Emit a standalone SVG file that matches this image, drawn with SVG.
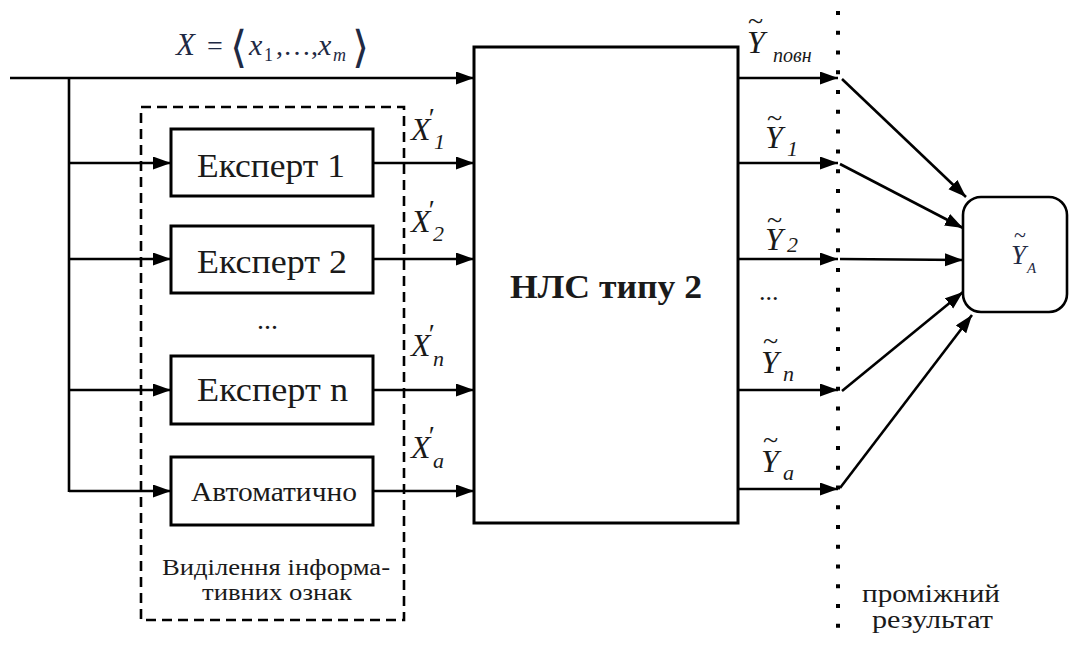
<svg xmlns="http://www.w3.org/2000/svg" width="1071" height="646" viewBox="0 0 1071 646">
<defs>
<marker id="arr" markerUnits="userSpaceOnUse" markerWidth="20" markerHeight="14" refX="18" refY="6.5" orient="auto">
<path d="M0,0 L18,6.5 L0,13 z" fill="#000"/>
</marker>
<style>
.ln{stroke:#000;stroke-width:2.6;fill:none}
.box{stroke:#000;stroke-width:3;fill:#fff}
.t{font-family:"Liberation Serif","Times New Roman",serif;fill:#1a1a1a}
.mi{font-family:"Liberation Serif","Times New Roman",serif;font-style:italic;fill:#1a1a1a}
.up{font-style:normal}
.eq{font-family:"Liberation Serif","DejaVu Serif",serif;fill:#1f2a44}
</style>
</defs>
<rect width="1071" height="646" fill="#fff"/>

<g id="connectors">
<line class="ln" x1="10" y1="78" x2="474" y2="78" marker-end="url(#arr)"/>
<line class="ln" x1="69" y1="78" x2="69" y2="492"/>
<line class="ln" x1="69" y1="163" x2="171" y2="163" marker-end="url(#arr)"/>
<line class="ln" x1="69" y1="259" x2="171" y2="259" marker-end="url(#arr)"/>
<line class="ln" x1="69" y1="390" x2="171" y2="390" marker-end="url(#arr)"/>
<line class="ln" x1="69" y1="491" x2="171" y2="491" marker-end="url(#arr)"/>
<line class="ln" x1="373" y1="163" x2="474" y2="163" marker-end="url(#arr)"/>
<line class="ln" x1="373" y1="259" x2="474" y2="259" marker-end="url(#arr)"/>
<line class="ln" x1="373" y1="390" x2="474" y2="390" marker-end="url(#arr)"/>
<line class="ln" x1="373" y1="491" x2="474" y2="491" marker-end="url(#arr)"/>
<line class="ln" x1="738" y1="78" x2="838" y2="78" marker-end="url(#arr)"/>
<line class="ln" x1="738" y1="163" x2="838" y2="163" marker-end="url(#arr)"/>
<line class="ln" x1="738" y1="259" x2="838" y2="259" marker-end="url(#arr)"/>
<line class="ln" x1="738" y1="390" x2="838" y2="390" marker-end="url(#arr)"/>
<line class="ln" x1="738" y1="489" x2="838" y2="489" marker-end="url(#arr)"/>
<line class="ln" x1="842" y1="79" x2="966" y2="197" marker-end="url(#arr)"/>
<line class="ln" x1="840" y1="164" x2="963" y2="228" marker-end="url(#arr)"/>
<line class="ln" x1="840" y1="259" x2="963" y2="260" marker-end="url(#arr)"/>
<line class="ln" x1="842" y1="391" x2="963" y2="292" marker-end="url(#arr)"/>
<line class="ln" x1="840" y1="488" x2="972" y2="315" marker-end="url(#arr)"/>
</g>

<g id="divider">
<line x1="838" y1="11" x2="838" y2="640" stroke="#000" stroke-width="4" stroke-dasharray="4 15.77"/>
<text class="t" x="862" y="602" font-size="26" textLength="138" lengthAdjust="spacingAndGlyphs">проміжний</text>
<text class="t" x="872" y="628" font-size="26" textLength="121" lengthAdjust="spacingAndGlyphs">результат</text>
</g>

<g id="input-label">
<text class="eq" x="176" y="55" font-size="31"><tspan font-style="italic">X</tspan><tspan x="207" font-size="28">=</tspan><tspan x="230" dy="7" font-size="44">⟨</tspan><tspan x="249" dy="-7" font-size="30" font-style="italic">x</tspan><tspan x="264" dy="6" font-size="18">1</tspan><tspan x="276" dy="-6" font-size="28">,…,</tspan><tspan x="318" font-size="30" font-style="italic">x</tspan><tspan x="333" dy="6" font-size="18" font-style="italic">m</tspan><tspan x="352" dy="1" font-size="44">⟩</tspan></text>
</g>

<g id="feature-extraction">
<rect x="141" y="107" width="263" height="513" fill="none" stroke="#000" stroke-width="2.6" stroke-dasharray="10 6"/>
<text class="t" x="162" y="575" font-size="24" textLength="228" lengthAdjust="spacingAndGlyphs">Виділення інформа-</text>
<text class="t" x="202" y="600" font-size="24" textLength="150" lengthAdjust="spacingAndGlyphs">тивних ознак</text>
<text class="t" x="257" y="329" font-size="28">...</text>
</g>

<g id="expert1">
<rect class="box" x="171" y="129" width="202" height="67"/>
<text class="t" x="197" y="177" font-size="33" textLength="148" lengthAdjust="spacingAndGlyphs">Експерт 1</text>
</g>
<g id="expert2">
<rect class="box" x="171" y="226" width="202" height="67"/>
<text class="t" x="197" y="273" font-size="33" textLength="150" lengthAdjust="spacingAndGlyphs">Експерт 2</text>
</g>
<g id="expertn">
<rect class="box" x="171" y="356" width="202" height="68"/>
<text class="t" x="197" y="401" font-size="33" textLength="151" lengthAdjust="spacingAndGlyphs">Експерт n</text>
</g>
<g id="auto">
<rect class="box" x="171" y="457" width="202" height="68"/>
<text class="t" x="191" y="501" font-size="27" textLength="166" lengthAdjust="spacingAndGlyphs">Автоматично</text>
</g>

<g id="x-labels">
<text class="mi" x="411" y="140" font-size="32">X<tspan x="427" dy="-13" font-size="28">′</tspan><tspan x="434" dy="22" font-size="22">1</tspan></text>
<text class="mi" x="411" y="232" font-size="32">X<tspan x="427" dy="-13" font-size="28">′</tspan><tspan x="433" dy="22" font-size="22">2</tspan></text>
<text class="mi" x="411" y="356" font-size="32">X<tspan x="427" dy="-13" font-size="28">′</tspan><tspan x="433" dy="23" font-size="22">n</tspan></text>
<text class="mi" x="411" y="458" font-size="32">X<tspan x="427" dy="-13" font-size="28">′</tspan><tspan x="433" dy="23" font-size="22">a</tspan></text>
</g>

<g id="nls">
<rect class="box" x="474" y="47" width="264" height="476"/>
<text class="t" x="606" y="298" font-size="33" font-weight="bold" text-anchor="middle" textLength="192" lengthAdjust="spacingAndGlyphs">НЛС типу 2</text>
</g>

<g id="y-labels">
<text class="mi" x="748" y="30" font-size="28"><tspan class="up">~</tspan><tspan x="747" y="53" font-size="32">Y</tspan><tspan x="773" y="62" font-size="20">повн</tspan></text>
<text class="mi" x="767" y="127" font-size="28"><tspan class="up">~</tspan><tspan x="765" y="148" font-size="32">Y</tspan><tspan x="787" y="156" font-size="22">1</tspan></text>
<text class="mi" x="767" y="229" font-size="28"><tspan class="up">~</tspan><tspan x="765" y="250" font-size="32">Y</tspan><tspan x="787" y="252" font-size="22">2</tspan></text>
<text class="t" x="759" y="300" font-size="26">...</text>
<text class="mi" x="763" y="350" font-size="28"><tspan class="up">~</tspan><tspan x="761" y="373" font-size="32">Y</tspan><tspan x="783" y="381" font-size="22">n</tspan></text>
<text class="mi" x="763" y="449" font-size="28"><tspan class="up">~</tspan><tspan x="761" y="472" font-size="32">Y</tspan><tspan x="783" y="480" font-size="22">a</tspan></text>
</g>

<g id="result">
<rect x="963" y="197" width="104" height="115" rx="18" ry="18" fill="#fff" stroke="#000" stroke-width="2.6"/>
<text class="eq" x="1014" y="242" font-size="22" fill="#3b3322">~<tspan x="1011" y="264" font-size="27" font-style="italic">Y</tspan><tspan x="1027" y="273" font-size="15" font-style="italic">A</tspan></text>
</g>
</svg>
